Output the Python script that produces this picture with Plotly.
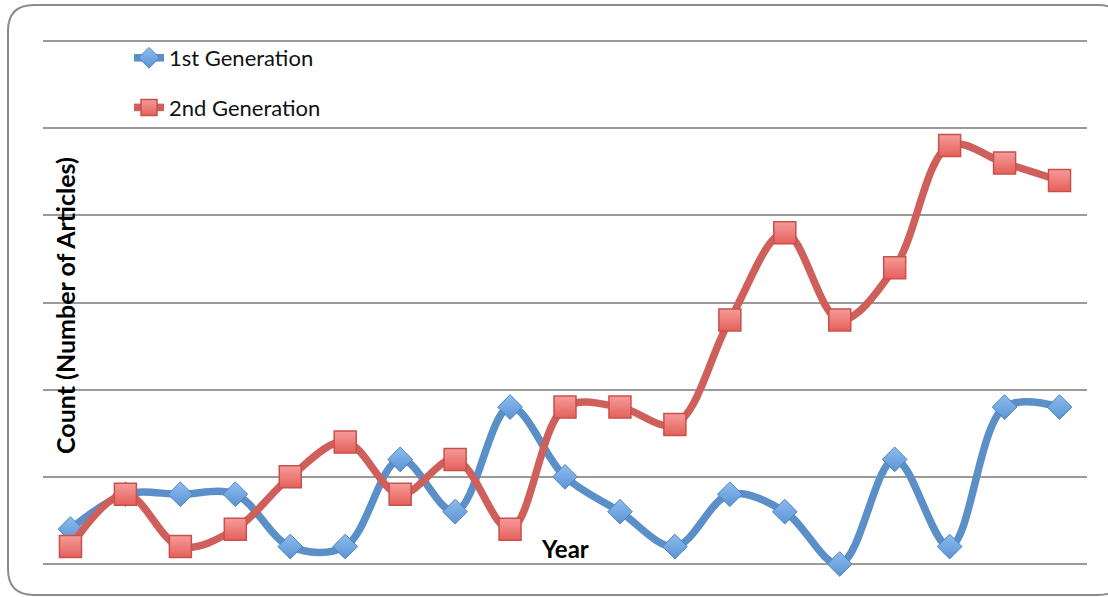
import plotly.graph_objects as go

# Period index along the horizontal axis (labels hidden on the chart)
periods = [1, 2, 3, 4, 5, 6, 7, 8, 9, 10, 11, 12, 13, 14, 15, 16, 17, 18, 19]

# Article counts per period
gen1_counts = [2, 4, 4, 4, 1, 1, 6, 3, 9, 5, 3, 1, 4, 3, 0, 6, 1, 9, 9]
gen2_counts = [1, 4, 1, 2, 5, 7, 4, 6, 2, 9, 9, 8, 14, 19, 14, 17, 24, 23, 22]

series_names = ["1st Generation", "2nd Generation"]

W, H = 1108, 597
FONT = "Lato"

# pixel extents of the value axis (0 at the bottom line, 30 at the top line)
Y0_PX, Y30_PX = 564, 41
PAD = 0.2  # small range padding so the edge gridlines are drawn
unit_px = (Y0_PX - Y30_PX) / 30


def px_x(v):
    return v / W


def px_y(v):
    return 1 - v / H


fig = go.Figure()

fig.add_trace(go.Scatter(
    x=periods, y=gen1_counts, name=series_names[0],
    mode="lines+markers",
    line=dict(color="#5A8FC8", width=7.5, shape="spline", smoothing=1.0),
    marker=dict(symbol="diamond", size=19, color="#8DBDF0",
                gradient=dict(type="vertical", color="#5B93D3"),
                line=dict(color="#4F82BE", width=1)),
    cliponaxis=False, legendgroup="g1",
))

fig.add_trace(go.Scatter(
    x=periods, y=gen2_counts, name=series_names[1],
    mode="lines+markers",
    line=dict(color="#CF5F5A", width=7.5, shape="spline", smoothing=1.0),
    marker=dict(symbol="square", size=22, color="#F59C9A",
                gradient=dict(type="vertical", color="#E5605B"),
                line=dict(color="#C9504B", width=1.5)),
    cliponaxis=False, legendgroup="g2",
))

# Rounded outer frame of the chart area
left, top, right, bottom, r = 8, 5, 1124, 595, 26
frame_path = (
    f"M {px_x(left + r)},{px_y(top)} "
    f"L {px_x(right - r)},{px_y(top)} "
    f"Q {px_x(right)},{px_y(top)} {px_x(right)},{px_y(top + r)} "
    f"L {px_x(right)},{px_y(bottom - r)} "
    f"Q {px_x(right)},{px_y(bottom)} {px_x(right - r)},{px_y(bottom)} "
    f"L {px_x(left + r)},{px_y(bottom)} "
    f"Q {px_x(left)},{px_y(bottom)} {px_x(left)},{px_y(bottom - r)} "
    f"L {px_x(left)},{px_y(top + r)} "
    f"Q {px_x(left)},{px_y(top)} {px_x(left + r)},{px_y(top)} Z"
)

fig.update_layout(
    width=W, height=H,
    margin=dict(l=0, r=0, t=0, b=0),
    paper_bgcolor="white", plot_bgcolor="white",
    font=dict(family=FONT, color="#000000"),
    showlegend=True,
    legend=dict(
        x=px_x(129), y=px_y(37), xanchor="left", yanchor="top",
        bgcolor="rgba(0,0,0,0)", font=dict(size=22, family=FONT, color="#111111"),
        tracegroupgap=18, itemwidth=30,
    ),
    xaxis=dict(
        domain=[px_x(43), px_x(1087)],
        range=[0.5, 19.5],
        showgrid=False, zeroline=False, showline=False,
        showticklabels=False, ticks="",
    ),
    yaxis=dict(
        domain=[1 - (Y0_PX + PAD * unit_px) / H, 1 - (Y30_PX - PAD * unit_px) / H],
        range=[-PAD, 30 + PAD], tick0=0, dtick=5,
        showgrid=True, gridcolor="#9A9A9A", gridwidth=2,
        zeroline=False, showline=False,
        showticklabels=False, ticks="",
    ),
    shapes=[dict(type="path", xref="paper", yref="paper", path=frame_path,
                 line=dict(color="#8C8C8C", width=2), fillcolor="rgba(0,0,0,0)",
                 layer="below")],
    annotations=[
        dict(text="<b>Count (Number of Articles)</b>", xref="paper", yref="paper",
             x=px_x(65), y=px_y(306), xanchor="center", yanchor="middle",
             textangle=-90, showarrow=False,
             font=dict(size=25, family=FONT, color="#000000")),
        dict(text="<b>Year</b>", xref="paper", yref="paper",
             x=px_x(565), y=px_y(548), xanchor="center", yanchor="middle",
             showarrow=False,
             font=dict(size=24, family=FONT, color="#000000")),
    ],
)

fig.write_html("out.html")
